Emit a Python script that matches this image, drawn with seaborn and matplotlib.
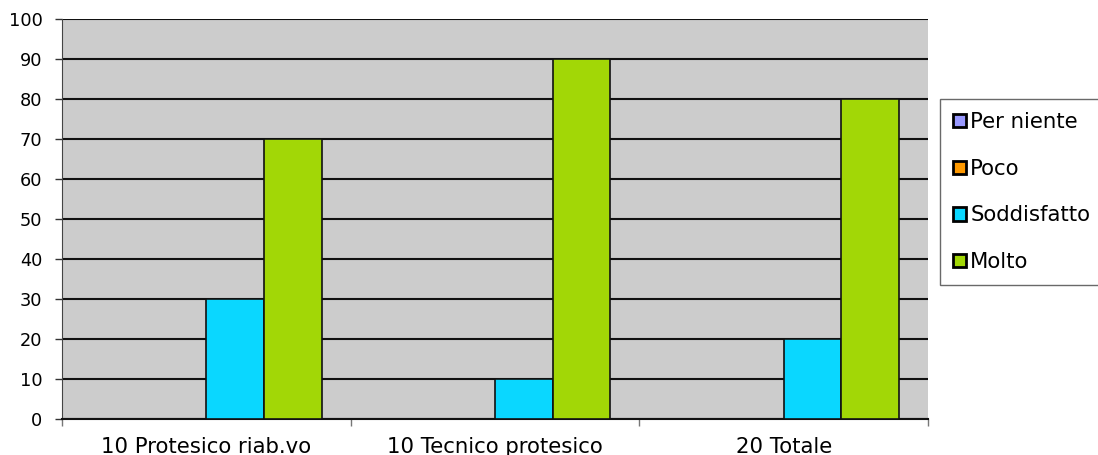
import matplotlib.pyplot as plt
import seaborn as sns
import pandas as pd
from matplotlib.patches import Patch

categorie = ["10 Protesico riab.vo", "10 Tecnico protesico", "20 Totale"]
livelli = ["Per niente", "Poco", "Soddisfatto", "Molto"]
per_niente = [0, 0, 0]
poco = [0, 0, 0]
soddisfatto = [30, 10, 20]
molto = [70, 90, 80]

colori = ["#9999FF", "#FF9900", "#0AD7FF", "#A2D706"]

righe = []
for livello, valori in zip(livelli, [per_niente, poco, soddisfatto, molto]):
    for cat, v in zip(categorie, valori):
        righe.append({"categoria": cat, "livello": livello, "valore": v})
tabella = pd.DataFrame(righe)

sns.set_style("white")
plt.rcParams["font.family"] = ["DejaVu Sans"]
plt.rcParams["text.color"] = "black"
plt.rcParams["xtick.color"] = "black"
plt.rcParams["ytick.color"] = "black"

fig = plt.figure(figsize=(10.98, 4.55), dpi=100)
ax = fig.add_axes([62 / 1098, 1 - 419 / 455, (928 - 62) / 1098, 400 / 455])
ax.set_facecolor("#CCCCCC")

sns.barplot(data=tabella, x="categoria", y="valore", hue="livello",
            hue_order=livelli, palette=colori, width=0.8, saturation=1,
            edgecolor="#111111", linewidth=1.2, ax=ax, legend=False, zorder=3)

ax.set_ylim(0, 100)
ax.set_xlim(-0.5, 2.5)
ax.set_yticks(range(0, 101, 10))
ax.yaxis.grid(True, color="#111111", linewidth=1.5, zorder=0)
ax.set_axisbelow(True)
ax.set_xlabel("")
ax.set_ylabel("")

for lato in ["top", "right"]:
    ax.spines[lato].set_visible(False)
ax.spines["left"].set_color("#444444")
ax.spines["bottom"].set_color("#111111")
ax.spines["bottom"].set_linewidth(1.5)

ax.tick_params(axis="y", labelsize=12.8, length=5, width=1, color="#333333",
               left=True, pad=9, labelcolor="black")
ax.tick_params(axis="x", which="major", length=0, labelsize=15.3, pad=13,
               labelcolor="black")
ax.set_xticks([-0.5, 0.5, 1.5, 2.5], minor=True)
ax.tick_params(axis="x", which="minor", bottom=True, length=5, width=1, color="#777777")

maniglie = [Patch(facecolor=c, edgecolor="black", linewidth=2) for c in colori]
leg = fig.legend(maniglie, livelli, loc="upper left",
                 bbox_to_anchor=(940 / 1098, 1 - 99 / 455),
                 frameon=True, fontsize=15.3, handlelength=0.6, handleheight=0.6,
                 handletextpad=0.2, labelspacing=1.25, borderpad=0.62,
                 borderaxespad=0, fancybox=False)
leg.get_frame().set_edgecolor("#444444")
leg.get_frame().set_linewidth(1)
leg.get_frame().set_facecolor("white")

fig.savefig("out.png", dpi=100)
